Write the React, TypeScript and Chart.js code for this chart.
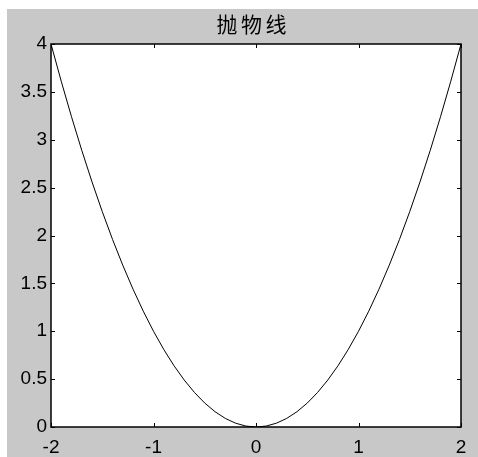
import React, { useEffect, useRef } from "react";
import { Chart, registerables } from "chart.js";

Chart.register(...registerables);

const titleText = "抛物线";
const xValues = [
  -2, -1.9, -1.8, -1.7, -1.6, -1.5, -1.4, -1.3, -1.2, -1.1, -1, -0.9, -0.8, -0.7,
  -0.6, -0.5, -0.4, -0.3, -0.2, -0.1, 0, 0.1, 0.2, 0.3, 0.4, 0.5, 0.6, 0.7, 0.8,
  0.9, 1, 1.1, 1.2, 1.3, 1.4, 1.5, 1.6, 1.7, 1.8, 1.9, 2,
];
const yValues = [
  4, 3.61, 3.24, 2.89, 2.56, 2.25, 1.96, 1.69, 1.44, 1.21, 1, 0.81, 0.64, 0.49,
  0.36, 0.25, 0.16, 0.09, 0.04, 0.01, 0, 0.01, 0.04, 0.09, 0.16, 0.25, 0.36, 0.49,
  0.64, 0.81, 1, 1.21, 1.44, 1.69, 1.96, 2.25, 2.56, 2.89, 3.24, 3.61, 4,
];
const xTicks = [-2, -1, 0, 1, 2];
const yTicks = [0, 0.5, 1, 1.5, 2, 2.5, 3, 3.5, 4];

const W = 478;
const H = 457;

const framePlugin = {
  id: "matlabFrame",
  beforeDraw(chart: any) {
    const ctx = chart.ctx;
    const a = chart.chartArea;
    ctx.save();
    ctx.fillStyle = "#ffffff";
    ctx.fillRect(0, 0, W, H);
    ctx.fillStyle = "#c8c8c8";
    ctx.fillRect(7, 9, W - 7, H - 9);
    ctx.fillStyle = "#ffffff";
    ctx.fillRect(a.left, a.top, a.right - a.left, a.bottom - a.top);
    ctx.restore();
  },
  afterDraw(chart: any) {
    const ctx = chart.ctx;
    const a = chart.chartArea;
    const xs = chart.scales.x;
    const ys = chart.scales.y;
    const tl = 4;
    ctx.save();
    ctx.strokeStyle = "#000000";
    ctx.lineWidth = 1.5;
    ctx.strokeRect(a.left, a.top, a.right - a.left, a.bottom - a.top);
    ctx.lineWidth = 1;
    ctx.beginPath();
    xTicks.forEach((v) => {
      const px = Math.round(xs.getPixelForValue(v)) + 0.5;
      ctx.moveTo(px, a.bottom);
      ctx.lineTo(px, a.bottom - tl);
      ctx.moveTo(px, a.top);
      ctx.lineTo(px, a.top + tl);
    });
    yTicks.forEach((v) => {
      const py = Math.round(ys.getPixelForValue(v)) + 0.5;
      ctx.moveTo(a.left, py);
      ctx.lineTo(a.left + tl, py);
      ctx.moveTo(a.right, py);
      ctx.lineTo(a.right - tl, py);
    });
    ctx.stroke();
    // title
    ctx.fillStyle = "#000000";
    ctx.font = '21px "Noto Sans CJK SC"';
    ctx.textAlign = "center";
    ctx.textBaseline = "middle";
    const chars = Array.from(titleText);
    const step = 24.5;
    const cx = 251.5;
    chars.forEach((c, i) => {
      ctx.fillText(c, cx + (i - (chars.length - 1) / 2) * step, 24);
    });
    ctx.restore();
  },
};

export default function App() {
  const ref = useRef<HTMLCanvasElement | null>(null);
  useEffect(() => {
    const canvas = ref.current;
    if (!canvas) return;
    const ctx = canvas.getContext("2d") as any;
    if (ctx && "letterSpacing" in ctx) ctx.letterSpacing = "1.5px";
    const chart = new Chart(canvas, {
      type: "line",
      data: {
        datasets: [
          {
            data: xValues.map((x, i) => ({ x, y: yValues[i] })),
            borderColor: "#000000",
            borderWidth: 1,
            pointRadius: 0,
            tension: 0,
            fill: false,
          },
        ],
      },
      options: {
        animation: false,
        responsive: false,
        devicePixelRatio: 1,
        layout: { padding: { left: 0, top: 44, right: 17, bottom: 0 } },
        plugins: {
          legend: { display: false },
          title: { display: false },
          tooltip: { enabled: false },
        },
        scales: {
          x: {
            type: "linear",
            min: -2,
            max: 2,
            grid: { display: false, drawTicks: false },
            border: { display: false },
            afterBuildTicks: (s: any) => {
              s.ticks = xTicks.map((v) => ({ value: v }));
            },
            afterFit: (s: any) => {
              s.height = 30;
            },
            ticks: {
              color: "#000000",
              padding: 9,
              maxRotation: 0,
              autoSkip: false,
              font: { family: '"Liberation Sans", Arial, sans-serif', size: 19 },
              callback: (v: any) => String(v),
            },
          },
          y: {
            type: "linear",
            min: 0,
            max: 4,
            grid: { display: false, drawTicks: false },
            border: { display: false },
            afterBuildTicks: (s: any) => {
              s.ticks = yTicks.map((v) => ({ value: v }));
            },
            afterFit: (s: any) => {
              s.width = 51;
            },
            ticks: {
              color: "#000000",
              padding: 4,
              autoSkip: false,
              font: { family: '"Liberation Sans", Arial, sans-serif', size: 19 },
              callback: (v: any) => String(v),
            },
          },
        },
      },
      plugins: [framePlugin],
    });
    return () => chart.destroy();
  }, []);
  return (
    <div style={{ position: "fixed", left: 0, top: 0, width: W, height: H }}>
      <canvas ref={ref} width={W} height={H} style={{ display: "block", width: W, height: H }} />
    </div>
  );
}
